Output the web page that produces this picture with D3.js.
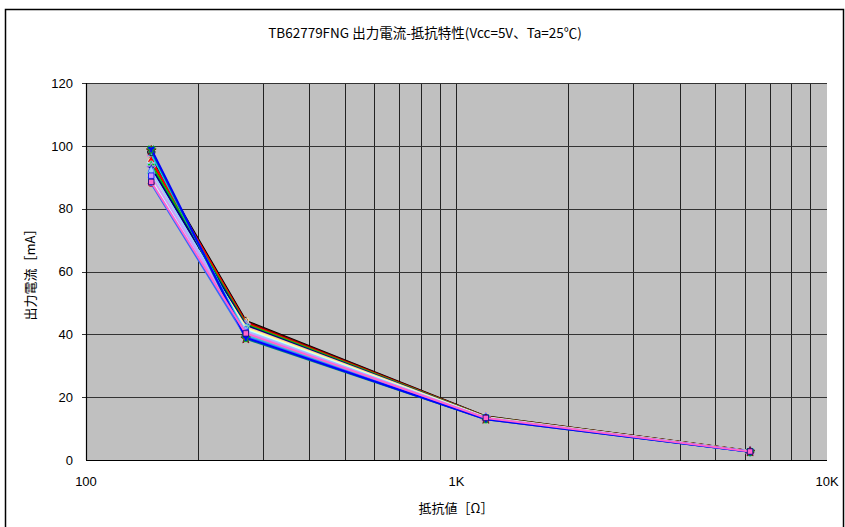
<!DOCTYPE html>
<html>
<head>
<meta charset="utf-8">
<script src="https://cdn.jsdelivr.net/npm/d3@7"></script>
<style>
  body { margin: 0; background: #fff; }
  text { font-family: "Noto Sans CJK JP", "DejaVu Sans", sans-serif; fill: #000; }
</style>
</head>
<body>
<svg id="chart" width="845" height="527"></svg>
<script>
// resistance values [ohm]
var resistances = [150, 270, 1200, 6200];

// output current [mA] per sample
var seriesValues = [
  [96.0, 44.3, 13.9, 2.9],
  [95.0, 44.0, 13.8, 2.9],
  [95.5, 43.6, 13.7, 2.8],
  [94.0, 43.2, 13.7, 2.8],
  [93.0, 42.8, 13.6, 2.8],
  [90.0, 42.3, 13.6, 2.8],
  [91.0, 41.9, 13.5, 2.8],
  [89.0, 41.5, 13.5, 2.7],
  [92.0, 41.1, 13.4, 2.7],
  [90.5, 40.7, 13.4, 2.7],
  [97.5, 40.0, 13.2, 2.7],
  [98.0, 39.6, 13.2, 2.6],
  [98.5, 38.6, 13.0, 2.6],
  [88.0, 39.2, 13.1, 2.6],
  [99.0, 38.9, 13.0, 2.6],
  [88.5, 40.3, 13.4, 2.7]
];
var seriesColors = ["#000000","#800000","#ff0000","#00cc00","#000080","#ffcc99","#ffff99","#ccffff",
                    "#99ccff","#cc99ff","#00ccff","#33cccc","#008080","#3366ff","#0000ff","#ff66cc"];

var yTicks = [0, 20, 40, 60, 80, 100, 120];
var xTickLabels = [{v: 100, t: "100"}, {v: 1000, t: "1K"}, {v: 10000, t: "10K"}];
var titleText = "TB62779FNG 出力電流-抵抗特性(Vcc=5V、Ta=25℃)";

var svg = d3.select("#chart");
var margin = {left: 86, top: 83, right: 827, bottom: 460};

// outer frame
svg.append("rect")
  .attr("x", 5.5).attr("y", 9.5)
  .attr("width", 838).attr("height", 530)
  .attr("fill", "#fff").attr("stroke", "#000").attr("stroke-width", 1.5);

var x = d3.scaleLog().domain([100, 10000]).range([margin.left, margin.right]);
var y = d3.scaleLinear().domain([0, 120]).range([margin.bottom, margin.top]);

svg.append("rect")
  .attr("x", margin.left).attr("y", margin.top)
  .attr("width", margin.right - margin.left).attr("height", margin.bottom - margin.top)
  .attr("fill", "#c0c0c0");

// vertical grid (log decades)
var xGrid = [];
[100, 1000].forEach(function(d){ for (var k = 1; k <= 9; k++) xGrid.push(d * k); });
svg.append("g").selectAll("line")
  .data(xGrid.filter(function(v){ return v > 100; }))
  .enter().append("line")
    .attr("x1", function(d){ return Math.round(x(d)) + 0.5; })
    .attr("x2", function(d){ return Math.round(x(d)) + 0.5; })
    .attr("y1", margin.top).attr("y2", margin.bottom)
    .attr("stroke", "#222").attr("stroke-width", 1);

// horizontal grid
svg.append("g").selectAll("line")
  .data(yTicks.filter(function(v){ return v > 0; }))
  .enter().append("line")
    .attr("x1", margin.left - 4).attr("x2", margin.right)
    .attr("y1", function(d){ return Math.round(y(d)) + 0.5; })
    .attr("y2", function(d){ return Math.round(y(d)) + 0.5; })
    .attr("stroke", "#333").attr("stroke-width", 1.2);

// axes lines
svg.append("line")
  .attr("x1", margin.left + 0.5).attr("x2", margin.left + 0.5)
  .attr("y1", margin.top).attr("y2", margin.bottom)
  .attr("stroke", "#000").attr("stroke-width", 1.2);
svg.append("line")
  .attr("x1", margin.left).attr("x2", margin.right)
  .attr("y1", margin.bottom + 0.5).attr("y2", margin.bottom + 0.5)
  .attr("stroke", "#000").attr("stroke-width", 1.2);

// tick labels
svg.append("g").selectAll("text")
  .data(yTicks)
  .enter().append("text")
    .attr("x", 73).attr("y", function(d){ return y(d); })
    .attr("dy", "0.36em")
    .attr("text-anchor", "end")
    .attr("font-size", 13)
    .style("font-family", "Arial, 'Liberation Sans', sans-serif")
    .text(function(d){ return d; });

svg.append("g").selectAll("text")
  .data(xTickLabels)
  .enter().append("text")
    .attr("x", function(d){ return x(d.v); }).attr("y", 486)
    .attr("text-anchor", "middle")
    .attr("font-size", 13)
    .style("font-family", "Arial, 'Liberation Sans', sans-serif")
    .text(function(d){ return d.t; });

// titles
svg.append("text")
  .attr("x", 425).attr("y", 38)
  .attr("text-anchor", "middle").attr("font-size", 13.5)
  .text(titleText);
svg.append("text")
  .attr("x", 456).attr("y", 513)
  .attr("text-anchor", "middle").attr("font-size", 13)
  .text("抵抗値［Ω］");
svg.append("text")
  .attr("transform", "translate(35," + ((margin.top + margin.bottom) / 2) + ") rotate(-90)")
  .attr("text-anchor", "middle").attr("font-size", 13)
  .text("出力電流［mA］");

// series
var line = d3.line()
  .x(function(d, i){ return x(resistances[i]); })
  .y(function(d){ return y(d); });

var symbols = [d3.symbolDiamond, d3.symbolSquare, d3.symbolTriangle, d3.symbolCross,
               d3.symbolStar, d3.symbolCircle, d3.symbolWye, d3.symbolSquare];

var series = svg.append("g").selectAll("g")
  .data(seriesValues)
  .enter().append("g");

series.append("path")
  .attr("d", function(d){ return line(d); })
  .attr("fill", "none")
  .attr("stroke", function(d, i){ return seriesColors[i]; })
  .attr("stroke-width", 2);

series.each(function(vals, si){
  d3.select(this).selectAll("path.m")
    .data(vals)
    .enter().append("path")
      .attr("class", "m")
      .attr("transform", function(d, i){ return "translate(" + x(resistances[i]) + "," + y(d) + ")"; })
      .attr("d", d3.symbol().type(symbols[si % symbols.length]).size(30))
      .attr("fill", seriesColors[si])
      .attr("stroke", seriesColors[(si + 5) % seriesColors.length])
      .attr("stroke-width", 0.8);
});
</script>
</body>
</html>
